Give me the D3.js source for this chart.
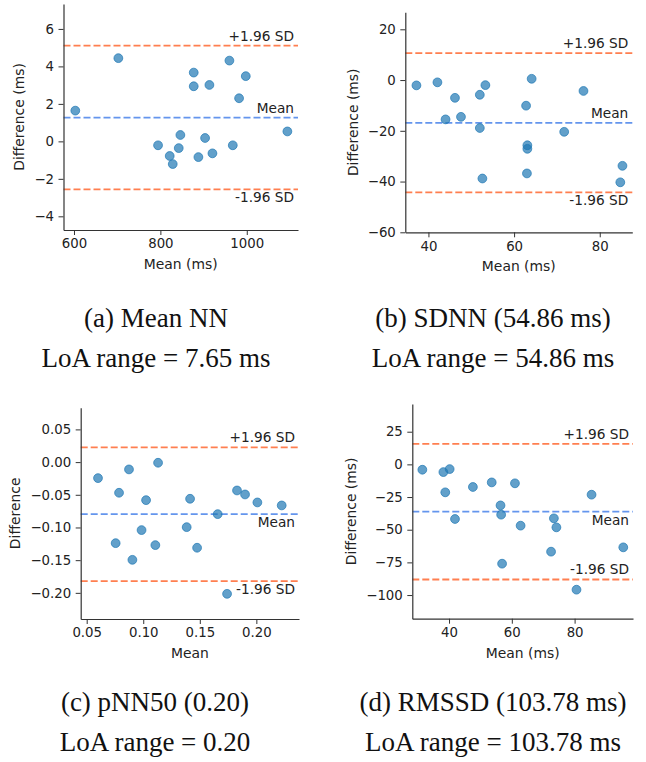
<!DOCTYPE html>
<html>
<head>
<meta charset="utf-8">
<script src="https://cdn.jsdelivr.net/npm/d3@7"></script>
<style>
  body { margin: 0; background: #fff; }
  svg { display: block; }
</style>
</head>
<body>
<svg width="646" height="762"></svg>
<script>
// values
const meanNNx = [603, 702.7, 794.6, 821.6, 828.6, 842.5, 846.3, 877.2, 877.2, 888, 903.5, 913.5, 920.5, 959.8, 967.6, 982.2, 997.7, 1094];
const meanNNy = [1.64, 4.44, -0.21, -0.78, -1.21, -0.36, 0.34, 3.67, 2.94, -0.84, 0.18, 3.01, -0.64, 4.31, -0.21, 2.30, 3.48, 0.53];

const sdnnX = [37.2, 42.1, 44.0, 46.2, 47.6, 52.0, 52.0, 52.6, 53.3, 62.8, 63.1, 63.1, 63.0, 64.1, 71.7, 76.2, 84.8, 85.3];
const sdnnY = [-2.1, -0.9, -15.5, -7.0, -14.5, -5.8, -18.9, -38.8, -2.0, -10.1, -25.7, -27.1, -36.8, 0.5, -20.4, -4.3, -40.3, -33.8];

const pnn50X = [0.0600, 0.0756, 0.0786, 0.0874, 0.0904, 0.0985, 0.1025, 0.1107, 0.1131, 0.1384, 0.1414, 0.1476, 0.1658, 0.1741, 0.1829, 0.1900, 0.2009, 0.2224];
const pnn50Y = [-0.0245, -0.124, -0.0469, -0.0112, -0.1495, -0.104, -0.0582, -0.127, -0.001, -0.0995, -0.0561, -0.131, -0.0796, -0.2015, -0.0434, -0.0495, -0.0617, -0.0663];

const rmssdX = [31.5, 38.2, 40.2, 38.8, 41.9, 47.6, 53.6, 56.4, 56.6, 56.9, 61.0, 62.8, 72.5, 73.4, 74.2, 80.6, 85.4, 95.5];
const rmssdY = [-4.1, -5.9, -3.6, -21.4, -41.8, -17.3, -13.8, -31.4, -38.5, -76.0, -14.5, -46.9, -66.8, -41.3, -48.2, -95.9, -23.2, -63.5];

const meanDiff = [1.27, -16.85, -0.0796, -36.2];
const upperLoA = [5.11, 10.6, 0.0226, 15.7];
const lowerLoA = [-2.56, -44.26, -0.182, -88.1];

const xDomains = [[575.7, 1118.6], [34.6, 87.6], [0.0447, 0.2377], [28.3, 98.6]];
const yDomains = [[-4.73, 7.33], [-60, 26.7], [-0.240, 0.0832], [-118.1, 46.2]];
const xTicks = [[600, 800, 1000], [40, 60, 80], [0.05, 0.10, 0.15, 0.20], [40, 60, 80]];
const yTicks = [[-4, -2, 0, 2, 4, 6], [-60, -40, -20, 0, 20], [-0.20, -0.15, -0.10, -0.05, 0.00, 0.05], [-100, -75, -50, -25, 0, 25]];
const tickFormats = ['d', 'd', '.2f', 'd'];

const xLabels = ['Mean (ms)', 'Mean (ms)', 'Mean', 'Mean (ms)'];
const yLabels = ['Difference (ms)', 'Difference (ms)', 'Difference', 'Difference (ms)'];
const captions = ['(a) Mean NN', '(b) SDNN (54.86 ms)', '(c) pNN50 (0.20)', '(d) RMSSD (103.78 ms)'];
const loaCaptions = ['LoA range = 7.65 ms', 'LoA range = 54.86 ms', 'LoA range = 0.20', 'LoA range = 103.78 ms'];

// layout
const boxes = [
    {left: 63.5, right: 298, top: 4, bottom: 230},
    {left: 405.3, right: 632.3, top: 12.3, bottom: 232.3},
    {left: 80.7, right: 299, top: 407.7, bottom: 619},
    {left: 412.3, right: 633, top: 404, bottom: 618.7}
];
const meanSide = ['above', 'above', 'below', 'below'];
const lowerSide = ['below', 'below', 'below', 'above'];
const captionX = [156, 493, 155, 493];
const captionY = [327, 711];

const xs = [meanNNx, sdnnX, pnn50X, rmssdX];
const ys = [meanNNy, sdnnY, pnn50Y, rmssdY];

const svg = d3.select('svg');
const sans = '"DejaVu Sans", sans-serif';
const serif = '"Liberation Serif", "Times New Roman", serif';
const ink = '#222';
const spine = '#333';

boxes.forEach((b, i) => {
    let x = d3.scaleLinear().domain(xDomains[i]).range([b.left, b.right]);
    let y = d3.scaleLinear().domain(yDomains[i]).range([b.bottom, b.top]);
    let fmt = d3.format(tickFormats[i]);
    let g = svg.append('g');

    // reference lines
    let lines = [
        {v: upperLoA[i], color: '#ff7f50', label: '+1.96 SD', side: 'above'},
        {v: meanDiff[i], color: '#6495ed', label: 'Mean', side: meanSide[i]},
        {v: lowerLoA[i], color: '#ff7f50', label: '-1.96 SD', side: lowerSide[i]}
    ];
    g.selectAll('line.ref').data(lines).enter()
        .append('line')
        .attr('x1', b.left).attr('x2', b.right)
        .attr('y1', d => y(d.v)).attr('y2', d => y(d.v))
        .attr('stroke', d => d.color)
        .attr('stroke-width', 1.8)
        .attr('stroke-dasharray', '7,3');

    g.selectAll('text.ref').data(lines).enter()
        .append('text')
        .attr('x', b.right - 4)
        .attr('y', d => d.side === 'above' ? y(d.v) - 5 : y(d.v) + 13)
        .attr('text-anchor', 'end')
        .style('font-family', sans).style('font-size', '13.7px').style('fill', ink)
        .text(d => d.label);

    // points
    g.selectAll('circle').data(xs[i]).enter()
        .append('circle')
        .attr('cx', d => x(d))
        .attr('cy', (d, j) => y(ys[i][j]))
        .attr('r', 4.4)
        .style('fill', '#1f77b4').style('fill-opacity', 0.7)
        .style('stroke', '#1f77b4').style('stroke-opacity', 0.7).style('stroke-width', 1);

    // axes
    let xAxis = g.append('g')
        .attr('transform', `translate(0,${b.bottom})`)
        .call(d3.axisBottom(x).tickValues(xTicks[i]).tickFormat(fmt).tickSize(5).tickPadding(4).tickSizeOuter(0));
    let yAxis = g.append('g')
        .attr('transform', `translate(${b.left},0)`)
        .call(d3.axisLeft(y).tickValues(yTicks[i]).tickFormat(fmt).tickSize(5).tickPadding(4.5).tickSizeOuter(0));

    [xAxis, yAxis].forEach(a => {
        a.select('.domain').attr('stroke', spine).attr('stroke-width', 1.2);
        a.selectAll('.tick line').attr('stroke', spine).attr('stroke-width', 1);
        a.selectAll('.tick text').style('font-family', sans).style('font-size', '13.3px').style('fill', ink);
    });
    yAxis.selectAll('.tick text').text(d => fmt(d).replace('-', '\u2212'));

    g.append('text')
        .attr('x', (b.left + b.right) / 2)
        .attr('y', b.bottom + 39)
        .attr('text-anchor', 'middle')
        .style('font-family', sans).style('font-size', '13.9px').style('fill', ink)
        .text(xLabels[i]);

    let minX = d3.min(yAxis.selectAll('.tick text').nodes(), n => n.getBBox().x) + b.left;
    g.append('text')
        .attr('transform', `translate(${minX - 10},${(b.top + b.bottom) / 2}) rotate(-90)`)
        .attr('text-anchor', 'middle')
        .style('font-family', sans).style('font-size', '13.9px').style('fill', ink)
        .text(yLabels[i]);

    // captions under each subfigure
    let cy = captionY[Math.floor(i / 2)];
    svg.append('text')
        .attr('x', captionX[i]).attr('y', cy)
        .attr('text-anchor', 'middle')
        .style('font-family', serif).style('font-size', '27px').style('fill', '#111')
        .text(captions[i]);
    svg.append('text')
        .attr('x', captionX[i]).attr('y', cy + 40)
        .attr('text-anchor', 'middle')
        .style('font-family', serif).style('font-size', '27px').style('fill', '#111')
        .text(loaCaptions[i]);
});
</script>
</body>
</html>
